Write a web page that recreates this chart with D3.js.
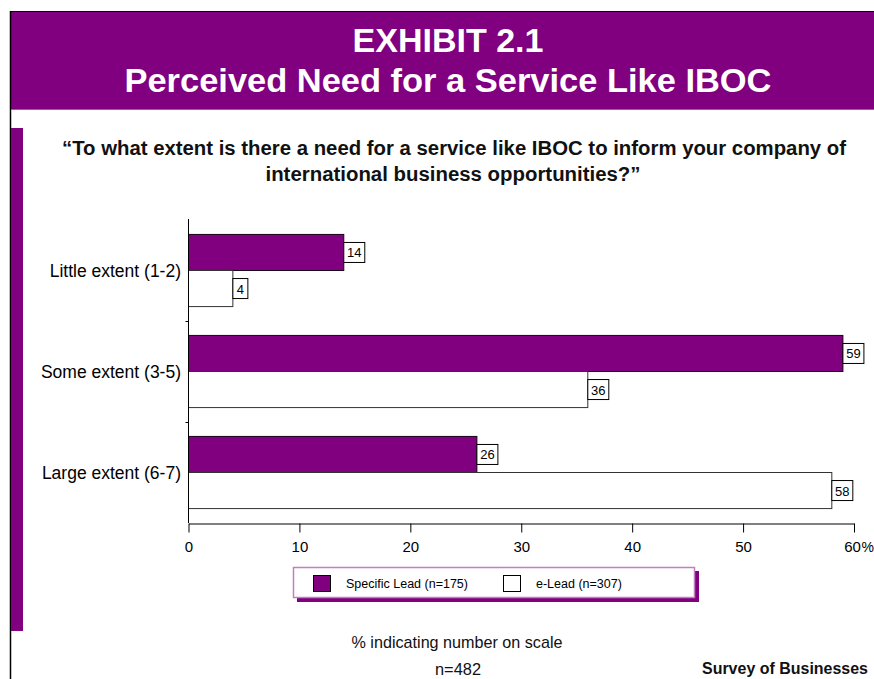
<!DOCTYPE html>
<html>
<head>
<meta charset="utf-8">
<script src="https://cdn.jsdelivr.net/npm/d3@7"></script>
<style>
  html, body { margin: 0; padding: 0; background: #fff; }
  svg { display: block; }
  text { font-family: "Liberation Sans", Arial, sans-serif; }
</style>
</head>
<body>
<svg id="chart" width="874" height="679"></svg>
<script>
// Survey answers: share of respondents per extent of need
const categories = ["Little extent (1-2)", "Some extent (3-5)", "Large extent (6-7)"];
const seriesNames = ["Specific Lead (n=175)", "e-Lead (n=307)"];
const specificLead = [14, 59, 26];
const eLead = [4, 36, 58];
const xTicks = [0, 10, 20, 30, 40, 50, 60];

const PURPLE = "#800080";
const svg = d3.select("#chart");

// ---- frame and header band ----
svg.append("rect").attr("x", 11).attr("y", 11).attr("width", 863).attr("height", 99).attr("fill", PURPLE);
svg.append("line").attr("x1", 11).attr("x2", 874).attr("y1", 11.5).attr("y2", 11.5).attr("stroke", "#000").attr("stroke-width", 1);
svg.append("line").attr("x1", 10.5).attr("x2", 10.5).attr("y1", 11).attr("y2", 679).attr("stroke", "#000").attr("stroke-width", 1.5);
svg.append("line").attr("x1", 11).attr("x2", 874).attr("y1", 109.5).attr("y2", 109.5).attr("stroke", "#b050b0").attr("stroke-width", 1);
svg.append("rect").attr("x", 11).attr("y", 128).attr("width", 12).attr("height", 503).attr("fill", PURPLE);

svg.append("text").attr("x", 448).attr("y", 52).attr("text-anchor", "middle")
  .attr("fill", "#fff").attr("font-weight", "bold").attr("font-size", 34)
  .attr("textLength", 191).attr("lengthAdjust", "spacingAndGlyphs")
  .text("EXHIBIT 2.1");
svg.append("text").attr("x", 448).attr("y", 92).attr("text-anchor", "middle")
  .attr("fill", "#fff").attr("font-weight", "bold").attr("font-size", 33)
  .attr("textLength", 647).attr("lengthAdjust", "spacingAndGlyphs")
  .text("Perceived Need for a Service Like IBOC");

// ---- question ----
svg.append("text").attr("x", 454).attr("y", 155).attr("text-anchor", "middle")
  .attr("fill", "#111").attr("font-weight", "bold").attr("font-size", 20)
  .attr("textLength", 784).attr("lengthAdjust", "spacingAndGlyphs")
  .text("\u201CTo what extent is there a need for a service like IBOC to inform your company of");
svg.append("text").attr("x", 453).attr("y", 181).attr("text-anchor", "middle")
  .attr("fill", "#111").attr("font-weight", "bold").attr("font-size", 20)
  .attr("textLength", 375).attr("lengthAdjust", "spacingAndGlyphs")
  .text("international business opportunities?\u201D");

// ---- scales ----
const x = d3.scaleLinear().domain([0, 60]).range([188.5, 854]);
const y = d3.scaleBand().domain(categories).range([220, 523]).padding(0);
const ys = d3.scaleBand().domain(seriesNames).range([0, y.bandwidth()]).paddingInner(0).paddingOuter(0.4);

const rows = categories.map((c, i) => ({ cat: c, vals: [specificLead[i], eLead[i]] }));
const fills = [PURPLE, "#fff"];
const strokes = ["#1a001a", "#333"];

const g = svg.append("g");
const groups = g.selectAll("g.cat").data(rows).join("g")
  .attr("class", "cat")
  .attr("transform", d => `translate(0,${y(d.cat)})`);

groups.selectAll("rect.bar").data(d => d.vals.map((v, k) => ({ v, k })))
  .join("rect").attr("class", "bar")
  .attr("x", x(0))
  .attr("y", d => ys(seriesNames[d.k]))
  .attr("width", d => x(d.v) - x(0))
  .attr("height", ys.bandwidth())
  .attr("fill", d => fills[d.k])
  .attr("stroke", d => strokes[d.k])
  .attr("stroke-width", 1);

// value boxes at the bar ends
const boxW = v => String(v).length > 1 ? 21 : 15;
const lbl = groups.selectAll("g.lbl").data(d => d.vals.map((v, k) => ({ v, k })))
  .join("g").attr("class", "lbl")
  .attr("transform", d => `translate(${x(d.v)},${ys(seriesNames[d.k]) + ys.bandwidth() / 2})`);
lbl.append("rect")
  .attr("x", 0).attr("y", -10)
  .attr("width", d => boxW(d.v)).attr("height", 20)
  .attr("fill", "#fff").attr("stroke", "#000").attr("stroke-width", 1);
lbl.append("text")
  .attr("x", d => boxW(d.v) / 2).attr("y", 5)
  .attr("text-anchor", "middle").attr("font-size", 13).attr("fill", "#000")
  .text(d => d.v);

// ---- y axis ----
const yAxis = svg.append("g");
yAxis.append("line").attr("x1", x(0)).attr("x2", x(0)).attr("y1", 219).attr("y2", 523).attr("stroke", "#000");
yAxis.selectAll("line.tk").data(categories.slice(1)).join("line").attr("class", "tk")
  .attr("x1", x(0) - 3).attr("x2", x(0)).attr("y1", d => y(d) + 0.5).attr("y2", d => y(d) + 0.5).attr("stroke", "#000");
yAxis.selectAll("text").data(categories).join("text")
  .attr("x", 181).attr("y", d => y(d) + y.bandwidth() / 2 + 6)
  .attr("text-anchor", "end").attr("font-size", 17.5).attr("fill", "#000")
  .text(d => d);

// ---- x axis ----
const xAxis = svg.append("g").attr("transform", "translate(0,523.5)")
  .call(d3.axisBottom(x).tickValues(xTicks).tickSize(9).tickSizeOuter(0).tickFormat(d => d));
xAxis.select(".domain").attr("stroke", "#000");
xAxis.selectAll(".tick line").attr("stroke", "#000");
xAxis.selectAll(".tick text").attr("font-family", "Liberation Sans, Arial, sans-serif")
  .attr("font-size", 15).attr("fill", "#000").attr("dy", null).attr("y", 28.5)
  .attr("dx", d => d === 60 ? -2 : 0);
svg.append("text").attr("x", x(60) + 7.5).attr("y", 552).attr("font-size", 14).attr("fill", "#000").text("%");

// ---- legend ----
const lg = svg.append("g");
lg.append("rect").attr("x", 297).attr("y", 571).attr("width", 402).attr("height", 31).attr("fill", PURPLE);
lg.append("rect").attr("x", 293.5).attr("y", 567.5).attr("width", 401).attr("height", 30)
  .attr("fill", "#fff").attr("stroke", "#c080c0").attr("stroke-width", 1.5);
const legendX = [313, 503];
const items = lg.selectAll("g.it").data(seriesNames).join("g").attr("class", "it")
  .attr("transform", (d, i) => `translate(${legendX[i]},575)`);
items.append("rect").attr("x", 0.5).attr("y", 0.5).attr("width", 17).attr("height", 16)
  .attr("fill", (d, i) => fills[i]).attr("stroke", "#000").attr("stroke-width", 1);
items.append("text").attr("x", 33).attr("y", 13).attr("font-size", 12.5).attr("fill", "#000").text(d => d);

// ---- footnotes ----
svg.append("text").attr("x", 457).attr("y", 648).attr("text-anchor", "middle")
  .attr("font-size", 17).attr("fill", "#111")
  .attr("textLength", 211).attr("lengthAdjust", "spacingAndGlyphs")
  .text("% indicating number on scale");
svg.append("text").attr("x", 458).attr("y", 675).attr("text-anchor", "middle")
  .attr("font-size", 17).attr("fill", "#111")
  .attr("textLength", 46).attr("lengthAdjust", "spacingAndGlyphs")
  .text("n=482");
svg.append("text").attr("x", 785).attr("y", 674).attr("text-anchor", "middle")
  .attr("font-size", 16.5).attr("font-weight", "bold").attr("fill", "#111")
  .attr("textLength", 166).attr("lengthAdjust", "spacingAndGlyphs")
  .text("Survey of Businesses");
</script>
</body>
</html>
